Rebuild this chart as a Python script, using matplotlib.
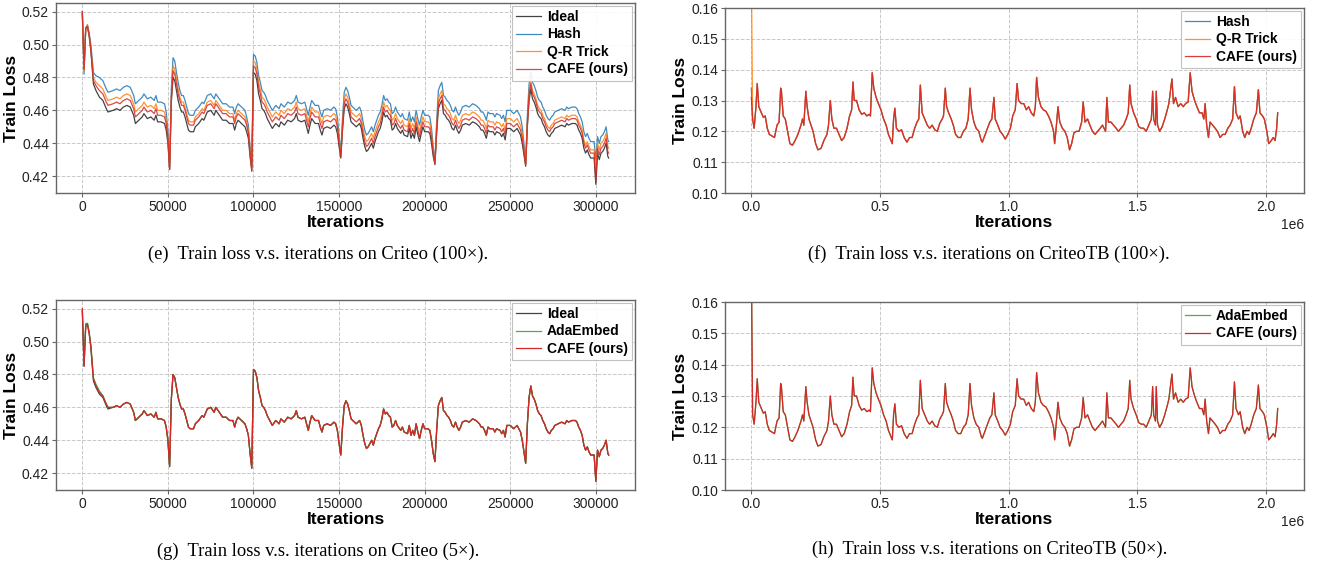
import numpy as np
import matplotlib
matplotlib.use("Agg")
import matplotlib.pyplot as plt

# Criteo: iterations (thousands) and train loss per method
criteo_iter_k = [0, 1, 2, 3, 4, 5, 6.5, 8, 10, 12, 14, 15, 18, 20, 22, 24, 26, 28, 30, 31,
                 33, 35, 36, 38, 40, 42, 43, 44, 46, 48, 49, 50, 51, 52, 53, 54, 55, 56, 57, 58,
                 59, 60, 61, 62, 63, 65, 66, 68, 70, 71, 73, 75, 77, 78, 80, 82, 84, 86, 88, 89,
                 90, 91, 93, 95, 96, 97, 98, 99, 100, 101, 102, 103, 104, 105, 106, 107, 108, 110, 111, 113,
                 115, 116, 118, 120, 122, 124, 125, 126, 128, 130, 131, 132, 133, 134, 136, 138, 139, 140, 141, 143,
                 145, 147, 148, 149, 150, 151, 152, 153, 154, 155, 156, 157, 158, 160, 162, 163, 164, 165, 166, 167,
                 168, 169, 170, 171, 172, 173, 174, 175, 176, 177, 178, 179, 180, 181, 182, 183, 184, 186, 187, 188,
                 190, 191, 192, 193, 194, 195, 196, 197, 198, 199, 200, 202, 203, 204, 205, 206, 207, 208, 209, 210,
                 211, 212, 213, 214, 215, 216, 217, 218, 219, 220, 221, 222, 224, 226, 228, 230, 232, 233, 234, 235,
                 236, 237, 238, 240, 241, 242, 244, 245, 246, 247, 248, 250, 252, 254, 256, 257, 258, 259, 260, 261,
                 262, 263, 264, 265, 266, 267, 268, 269, 270, 271, 272, 273, 274, 275, 276, 278, 280, 282, 283, 284,
                 286, 288, 289, 290, 291, 292, 293, 294, 295, 296, 297, 298, 299, 300, 301, 302, 303, 304, 305, 306,
                 307, 307.5]

ideal_loss = [0.519, 0.485, 0.510, 0.511, 0.505, 0.496, 0.476, 0.472, 0.468, 0.466, 0.461, 0.459, 0.460, 0.461, 0.460, 0.462, 0.463, 0.462, 0.457, 0.452,
              0.454, 0.456, 0.458, 0.455, 0.456, 0.454, 0.457, 0.453, 0.453, 0.452, 0.448, 0.440, 0.424, 0.465, 0.480, 0.478, 0.472, 0.466, 0.462, 0.459,
              0.459, 0.456, 0.452, 0.448, 0.447, 0.447, 0.450, 0.452, 0.455, 0.454, 0.459, 0.460, 0.457, 0.460, 0.457, 0.454, 0.454, 0.452, 0.452, 0.448,
              0.452, 0.454, 0.452, 0.450, 0.447, 0.443, 0.432, 0.423, 0.483, 0.482, 0.478, 0.470, 0.466, 0.461, 0.460, 0.458, 0.455, 0.451, 0.449, 0.452,
              0.450, 0.453, 0.451, 0.454, 0.453, 0.455, 0.458, 0.454, 0.453, 0.454, 0.450, 0.446, 0.451, 0.455, 0.452, 0.452, 0.448, 0.445, 0.449, 0.450,
              0.449, 0.451, 0.450, 0.446, 0.438, 0.431, 0.448, 0.461, 0.464, 0.462, 0.458, 0.453, 0.452, 0.450, 0.452, 0.449, 0.443, 0.438, 0.435, 0.436,
              0.438, 0.440, 0.437, 0.441, 0.444, 0.447, 0.449, 0.453, 0.459, 0.456, 0.457, 0.455, 0.454, 0.448, 0.449, 0.452, 0.449, 0.446, 0.448, 0.445,
              0.444, 0.449, 0.443, 0.446, 0.443, 0.450, 0.445, 0.441, 0.446, 0.450, 0.447, 0.447, 0.446, 0.440, 0.432, 0.427, 0.446, 0.461, 0.464, 0.466,
              0.458, 0.457, 0.455, 0.454, 0.452, 0.449, 0.448, 0.451, 0.448, 0.446, 0.448, 0.451, 0.452, 0.451, 0.453, 0.452, 0.450, 0.448, 0.448, 0.446,
              0.443, 0.448, 0.447, 0.447, 0.445, 0.447, 0.446, 0.444, 0.446, 0.442, 0.449, 0.449, 0.447, 0.449, 0.445, 0.440, 0.433, 0.426, 0.450, 0.466,
              0.473, 0.467, 0.465, 0.462, 0.458, 0.456, 0.455, 0.452, 0.450, 0.447, 0.445, 0.444, 0.446, 0.447, 0.449, 0.450, 0.451, 0.450, 0.452, 0.451,
              0.452, 0.452, 0.451, 0.448, 0.446, 0.443, 0.437, 0.434, 0.436, 0.433, 0.431, 0.431, 0.431, 0.415, 0.434, 0.430, 0.434, 0.435, 0.437, 0.440,
              0.432, 0.431]

hash_loss = [0.520, 0.482, 0.510, 0.512, 0.507, 0.500, 0.483, 0.481, 0.480, 0.478, 0.473, 0.471, 0.472, 0.473, 0.472, 0.474, 0.475, 0.474, 0.469, 0.464,
             0.466, 0.468, 0.470, 0.467, 0.468, 0.466, 0.469, 0.465, 0.465, 0.464, 0.459, 0.448, 0.426, 0.473, 0.492, 0.490, 0.483, 0.477, 0.472, 0.469,
             0.469, 0.466, 0.462, 0.458, 0.457, 0.457, 0.460, 0.462, 0.465, 0.464, 0.469, 0.470, 0.467, 0.470, 0.467, 0.464, 0.464, 0.462, 0.462, 0.458,
             0.462, 0.464, 0.462, 0.460, 0.456, 0.451, 0.438, 0.425, 0.494, 0.493, 0.489, 0.481, 0.477, 0.472, 0.471, 0.469, 0.466, 0.462, 0.460, 0.463,
             0.461, 0.464, 0.462, 0.465, 0.464, 0.466, 0.469, 0.465, 0.464, 0.465, 0.461, 0.457, 0.462, 0.466, 0.463, 0.463, 0.459, 0.456, 0.460, 0.461,
             0.460, 0.462, 0.461, 0.456, 0.445, 0.434, 0.455, 0.471, 0.474, 0.472, 0.468, 0.463, 0.462, 0.460, 0.462, 0.459, 0.453, 0.448, 0.445, 0.446,
             0.448, 0.450, 0.447, 0.451, 0.454, 0.457, 0.459, 0.463, 0.469, 0.466, 0.467, 0.465, 0.464, 0.458, 0.459, 0.462, 0.459, 0.456, 0.458, 0.455,
             0.454, 0.459, 0.453, 0.456, 0.453, 0.460, 0.455, 0.451, 0.456, 0.460, 0.457, 0.457, 0.456, 0.449, 0.438, 0.429, 0.453, 0.472, 0.475, 0.477,
             0.469, 0.468, 0.466, 0.465, 0.463, 0.460, 0.459, 0.462, 0.459, 0.457, 0.459, 0.462, 0.463, 0.462, 0.464, 0.463, 0.461, 0.459, 0.459, 0.457,
             0.454, 0.459, 0.458, 0.458, 0.456, 0.458, 0.457, 0.455, 0.457, 0.453, 0.460, 0.460, 0.458, 0.460, 0.456, 0.450, 0.440, 0.428, 0.457, 0.476,
             0.483, 0.477, 0.475, 0.472, 0.468, 0.466, 0.465, 0.462, 0.460, 0.457, 0.455, 0.454, 0.456, 0.457, 0.459, 0.460, 0.461, 0.460, 0.462, 0.461,
             0.462, 0.462, 0.461, 0.458, 0.456, 0.453, 0.447, 0.444, 0.446, 0.443, 0.441, 0.441, 0.441, 0.430, 0.444, 0.440, 0.444, 0.445, 0.447, 0.450,
             0.442, 0.441]

qr_loss = [0.520, 0.484, 0.510, 0.512, 0.506, 0.498, 0.480, 0.477, 0.475, 0.473, 0.468, 0.466, 0.467, 0.468, 0.467, 0.469, 0.470, 0.469, 0.464, 0.459,
           0.461, 0.463, 0.465, 0.462, 0.463, 0.461, 0.464, 0.460, 0.460, 0.459, 0.454, 0.445, 0.425, 0.469, 0.487, 0.485, 0.479, 0.473, 0.468, 0.465,
           0.465, 0.462, 0.458, 0.454, 0.453, 0.453, 0.456, 0.458, 0.461, 0.460, 0.465, 0.466, 0.463, 0.466, 0.463, 0.460, 0.460, 0.458, 0.458, 0.454,
           0.458, 0.460, 0.458, 0.456, 0.453, 0.448, 0.436, 0.424, 0.490, 0.489, 0.485, 0.477, 0.473, 0.468, 0.467, 0.465, 0.462, 0.458, 0.456, 0.459,
           0.457, 0.460, 0.458, 0.461, 0.460, 0.462, 0.465, 0.461, 0.460, 0.461, 0.457, 0.453, 0.458, 0.462, 0.459, 0.459, 0.455, 0.452, 0.456, 0.457,
           0.456, 0.458, 0.457, 0.452, 0.442, 0.433, 0.452, 0.467, 0.470, 0.468, 0.464, 0.459, 0.458, 0.456, 0.458, 0.455, 0.449, 0.444, 0.441, 0.442,
           0.444, 0.446, 0.443, 0.447, 0.450, 0.453, 0.455, 0.459, 0.465, 0.462, 0.463, 0.461, 0.460, 0.454, 0.455, 0.458, 0.455, 0.452, 0.454, 0.451,
           0.450, 0.455, 0.449, 0.452, 0.449, 0.456, 0.451, 0.447, 0.452, 0.456, 0.453, 0.453, 0.452, 0.446, 0.436, 0.428, 0.450, 0.467, 0.470, 0.472,
           0.464, 0.463, 0.461, 0.460, 0.458, 0.455, 0.454, 0.457, 0.454, 0.452, 0.454, 0.457, 0.458, 0.457, 0.459, 0.458, 0.456, 0.454, 0.454, 0.452,
           0.449, 0.454, 0.453, 0.453, 0.451, 0.453, 0.452, 0.450, 0.452, 0.448, 0.455, 0.455, 0.453, 0.455, 0.451, 0.446, 0.437, 0.427, 0.454, 0.471,
           0.478, 0.472, 0.470, 0.467, 0.463, 0.461, 0.460, 0.457, 0.455, 0.452, 0.450, 0.449, 0.451, 0.452, 0.454, 0.455, 0.456, 0.455, 0.457, 0.456,
           0.457, 0.457, 0.456, 0.453, 0.451, 0.448, 0.442, 0.439, 0.441, 0.438, 0.436, 0.436, 0.436, 0.424, 0.440, 0.436, 0.440, 0.441, 0.443, 0.446,
           0.438, 0.437]

cafe_100x_loss = [0.520, 0.485, 0.510, 0.511, 0.506, 0.497, 0.478, 0.475, 0.472, 0.470, 0.465, 0.463, 0.464, 0.465, 0.464, 0.466, 0.467, 0.466, 0.461, 0.456,
                  0.458, 0.460, 0.462, 0.459, 0.460, 0.458, 0.461, 0.457, 0.457, 0.456, 0.452, 0.443, 0.424, 0.467, 0.484, 0.482, 0.476, 0.470, 0.466, 0.463,
                  0.463, 0.460, 0.456, 0.452, 0.451, 0.451, 0.454, 0.456, 0.459, 0.458, 0.463, 0.464, 0.461, 0.464, 0.461, 0.458, 0.458, 0.456, 0.456, 0.452,
                  0.456, 0.458, 0.456, 0.454, 0.451, 0.446, 0.434, 0.424, 0.487, 0.486, 0.482, 0.474, 0.470, 0.465, 0.464, 0.462, 0.459, 0.455, 0.453, 0.456,
                  0.454, 0.457, 0.455, 0.458, 0.457, 0.459, 0.462, 0.458, 0.457, 0.458, 0.454, 0.450, 0.455, 0.459, 0.456, 0.456, 0.452, 0.449, 0.453, 0.454,
                  0.453, 0.455, 0.454, 0.450, 0.440, 0.432, 0.450, 0.464, 0.467, 0.465, 0.461, 0.456, 0.455, 0.453, 0.455, 0.452, 0.446, 0.441, 0.438, 0.439,
                  0.441, 0.443, 0.440, 0.444, 0.447, 0.450, 0.452, 0.456, 0.462, 0.459, 0.460, 0.458, 0.457, 0.451, 0.452, 0.455, 0.452, 0.449, 0.451, 0.448,
                  0.447, 0.452, 0.446, 0.449, 0.446, 0.453, 0.448, 0.444, 0.449, 0.453, 0.450, 0.450, 0.449, 0.443, 0.434, 0.428, 0.448, 0.464, 0.467, 0.469,
                  0.461, 0.460, 0.458, 0.457, 0.455, 0.452, 0.451, 0.454, 0.451, 0.449, 0.451, 0.454, 0.455, 0.454, 0.456, 0.455, 0.453, 0.451, 0.451, 0.449,
                  0.446, 0.451, 0.450, 0.450, 0.448, 0.450, 0.449, 0.447, 0.449, 0.445, 0.452, 0.452, 0.450, 0.452, 0.448, 0.443, 0.435, 0.427, 0.452, 0.469,
                  0.476, 0.470, 0.468, 0.465, 0.461, 0.459, 0.458, 0.455, 0.453, 0.450, 0.448, 0.447, 0.449, 0.450, 0.452, 0.453, 0.454, 0.453, 0.455, 0.454,
                  0.455, 0.455, 0.454, 0.451, 0.449, 0.446, 0.440, 0.437, 0.439, 0.436, 0.434, 0.434, 0.434, 0.417, 0.437, 0.433, 0.437, 0.438, 0.440, 0.443,
                  0.435, 0.434]

# Criteo 5x: AdaEmbed / CAFE differ from Ideal only in the first steps
ada_5x_head = [0.519, 0.486, 0.511, 0.511, 0.506, 0.498, 0.478, 0.474, 0.470, 0.467, 0.462, 0.460]
cafe_5x_head = [0.520, 0.485, 0.509, 0.510, 0.505, 0.497, 0.477, 0.473, 0.469, 0.467, 0.462, 0.460]
ada_5x_loss = ada_5x_head + ideal_loss[12:]
cafe_5x_loss = cafe_5x_head + ideal_loss[12:]

# CriteoTB: iterations (millions) and train loss
tb_iter_m = [0.000, 0.005, 0.011, 0.018, 0.023, 0.029, 0.039, 0.047, 0.054, 0.062, 0.070, 0.080, 0.090, 0.100, 0.108, 0.114, 0.117, 0.124, 0.132, 0.140,
             0.150, 0.160, 0.170, 0.181, 0.193, 0.199, 0.204, 0.212, 0.217, 0.224, 0.232, 0.240, 0.250, 0.259, 0.271, 0.282, 0.294, 0.300, 0.307, 0.313,
             0.321, 0.331, 0.341, 0.351, 0.361, 0.372, 0.382, 0.390, 0.395, 0.400, 0.409, 0.419, 0.429, 0.439, 0.449, 0.458, 0.463, 0.470, 0.476, 0.485,
             0.494, 0.504, 0.514, 0.524, 0.533, 0.543, 0.548, 0.553, 0.558, 0.564, 0.574, 0.584, 0.594, 0.605, 0.615, 0.625, 0.635, 0.644, 0.651, 0.657,
             0.664, 0.674, 0.684, 0.693, 0.703, 0.713, 0.723, 0.732, 0.742, 0.747, 0.754, 0.759, 0.767, 0.777, 0.785, 0.794, 0.804, 0.814, 0.824, 0.834,
             0.843, 0.850, 0.856, 0.865, 0.874, 0.884, 0.894, 0.898, 0.909, 0.918, 0.927, 0.935, 0.943, 0.948, 0.958, 0.967, 0.977, 0.987, 0.997, 1.007,
             1.016, 1.026, 1.033, 1.039, 1.049, 1.059, 1.069, 1.078, 1.088, 1.098, 1.104, 1.109, 1.116, 1.126, 1.135, 1.145, 1.155, 1.165, 1.175, 1.179,
             1.186, 1.192, 1.199, 1.209, 1.219, 1.228, 1.237, 1.245, 1.254, 1.264, 1.274, 1.284, 1.290, 1.297, 1.307, 1.316, 1.326, 1.336, 1.346, 1.356,
             1.365, 1.377, 1.382, 1.388, 1.398, 1.408, 1.418, 1.427, 1.437, 1.447, 1.457, 1.465, 1.471, 1.476, 1.486, 1.496, 1.506, 1.516, 1.525, 1.535,
             1.545, 1.555, 1.560, 1.564, 1.571, 1.574, 1.579, 1.587, 1.597, 1.607, 1.617, 1.623, 1.635, 1.641, 1.649, 1.659, 1.669, 1.679, 1.688, 1.698,
             1.706, 1.713, 1.723, 1.732, 1.742, 1.752, 1.759, 1.764, 1.770, 1.777, 1.783, 1.793, 1.803, 1.812, 1.822, 1.832, 1.842, 1.852, 1.861, 1.871,
             1.878, 1.884, 1.894, 1.900, 1.910, 1.918, 1.927, 1.935, 1.943, 1.953, 1.963, 1.971, 1.977, 1.987, 1.994, 2.004, 2.011, 2.021, 2.029, 2.036,
             2.042, 2.046]

tb_loss = [0.131, 0.124, 0.121, 0.128, 0.1355, 0.128, 0.126, 0.1245, 0.125, 0.121, 0.119, 0.1185, 0.118, 0.122, 0.123, 0.134, 0.133, 0.125, 0.124, 0.1205,
           0.116, 0.1155, 0.117, 0.119, 0.122, 0.124, 0.122, 0.133, 0.128, 0.124, 0.122, 0.120, 0.116, 0.114, 0.1145, 0.117, 0.119, 0.122, 0.130, 0.124,
           0.121, 0.121, 0.119, 0.117, 0.118, 0.121, 0.125, 0.127, 0.136, 0.130, 0.130, 0.127, 0.1255, 0.126, 0.125, 0.1255, 0.125, 0.139, 0.134, 0.131,
           0.129, 0.127, 0.124, 0.122, 0.119, 0.117, 0.116, 0.124, 0.1275, 0.121, 0.120, 0.1205, 0.118, 0.1165, 0.118, 0.118, 0.121, 0.123, 0.124, 0.135,
           0.126, 0.124, 0.122, 0.121, 0.122, 0.1205, 0.120, 0.1225, 0.124, 0.125, 0.134, 0.128, 0.126, 0.124, 0.122, 0.119, 0.118, 0.118, 0.120, 0.121,
           0.124, 0.134, 0.127, 0.123, 0.121, 0.120, 0.117, 0.1165, 0.119, 0.121, 0.123, 0.124, 0.131, 0.124, 0.122, 0.120, 0.119, 0.1175, 0.119, 0.121,
           0.125, 0.127, 0.1355, 0.130, 0.129, 0.129, 0.127, 0.128, 0.126, 0.125, 0.128, 0.1375, 0.131, 0.128, 0.127, 0.1265, 0.125, 0.123, 0.120, 0.116,
           0.122, 0.128, 0.123, 0.121, 0.120, 0.118, 0.114, 0.116, 0.1195, 0.120, 0.120, 0.123, 0.1295, 0.123, 0.124, 0.122, 0.120, 0.119, 0.120, 0.121,
           0.122, 0.120, 0.131, 0.123, 0.123, 0.122, 0.121, 0.120, 0.121, 0.122, 0.124, 0.126, 0.135, 0.129, 0.126, 0.124, 0.1215, 0.121, 0.121, 0.120,
           0.122, 0.124, 0.133, 0.124, 0.122, 0.133, 0.122, 0.120, 0.1215, 0.124, 0.127, 0.129, 0.137, 0.129, 0.131, 0.128, 0.129, 0.128, 0.129, 0.1295,
           0.139, 0.133, 0.130, 0.128, 0.126, 0.126, 0.124, 0.129, 0.122, 0.118, 0.123, 0.122, 0.121, 0.120, 0.118, 0.119, 0.119, 0.121, 0.122, 0.124,
           0.1345, 0.126, 0.124, 0.125, 0.120, 0.118, 0.120, 0.119, 0.121, 0.124, 0.126, 0.1335, 0.126, 0.125, 0.124, 0.120, 0.116, 0.117, 0.118, 0.117,
           0.121, 0.126]

# first logged loss differs per method (the rest overlaps)
tb_hash_100x = [0.134] + tb_loss[1:]
tb_qr_100x = [0.175] + tb_loss[1:]
tb_cafe_100x = tb_loss
tb_ada_50x = [0.175] + tb_loss[1:]
tb_cafe_50x = [0.175] + tb_loss[1:]

captions = ["(e)  Train loss v.s. iterations on Criteo (100\u00d7).",
            "(f)  Train loss v.s. iterations on CriteoTB (100\u00d7).",
            "(g)  Train loss v.s. iterations on Criteo (5\u00d7).",
            "(h)  Train loss v.s. iterations on CriteoTB (50\u00d7)."]

plt.rcParams["font.family"] = ["Liberation Sans", "DejaVu Sans"]

BLACK = "#222222"
BLUE = "#1f77b4"
ORANGE = "#ff7f0e"
GREEN = "#2ca02c"
RED = "#d62728"

fig = plt.figure(figsize=(13.17, 5.62), dpi=100)
W, H = 1317.0, 562.0


def make_axes(left, top, right, bottom):
    return fig.add_axes([left / W, 1 - bottom / H, (right - left) / W, (bottom - top) / H])


def style(ax):
    ax.grid(True, linestyle="--", color="#c8c8c8", linewidth=0.7)
    ax.set_axisbelow(True)
    for s in ax.spines.values():
        s.set_color("#666666")
        s.set_linewidth(1.0)
    ax.tick_params(labelsize=10, length=3, pad=2, color="#666666", labelcolor="#222222")
    ax.set_xlabel("Iterations", fontsize=12.5, fontweight="bold", labelpad=1)
    ax.set_ylabel("Train Loss", fontsize=12.5, fontweight="bold", labelpad=2)
    ax.xaxis.get_offset_text().set_fontsize(10)


def add_legend(ax):
    leg = ax.legend(loc="upper right", prop={"weight": "bold", "size": 10},
                    labelspacing=0.25, handlelength=1.8, handletextpad=0.45,
                    borderpad=0.3, borderaxespad=0.2, fancybox=False,
                    edgecolor="#bbbbbb", framealpha=0.9)
    leg.get_frame().set_linewidth(0.8)


x_criteo = np.array(criteo_iter_k) * 1000
x_tb = np.array(tb_iter_m) * 1e6
lw = 0.9
alpha = 0.85

# (e) Criteo 100x
ax = make_axes(56, 3, 635, 193)
ax.plot(x_criteo, ideal_loss, color=BLACK, lw=lw, alpha=alpha, label="Ideal")
ax.plot(x_criteo, hash_loss, color=BLUE, lw=lw, alpha=alpha, label="Hash")
ax.plot(x_criteo, qr_loss, color=ORANGE, lw=lw, alpha=alpha, label="Q-R Trick")
ax.plot(x_criteo, cafe_100x_loss, color=RED, lw=lw, alpha=alpha, label="CAFE (ours)")
ax.set_xlim(-15375, 322875)
ax.set_ylim(0.40975, 0.52525)
ax.set_yticks([0.42, 0.44, 0.46, 0.48, 0.50, 0.52])
style(ax)
add_legend(ax)

# (f) CriteoTB 100x
ax = make_axes(725, 8, 1304, 193)
ax.plot(x_tb, tb_hash_100x, color=BLUE, lw=lw, alpha=alpha, label="Hash")
ax.plot(x_tb, tb_qr_100x, color=ORANGE, lw=lw, alpha=alpha, label="Q-R Trick")
ax.plot(x_tb, tb_cafe_100x, color=RED, lw=lw, alpha=0.9, label="CAFE (ours)")
ax.set_xlim(-0.1023e6, 2.1483e6)
ax.set_ylim(0.10, 0.16)
ax.set_yticks([0.10, 0.11, 0.12, 0.13, 0.14, 0.15, 0.16])
style(ax)
add_legend(ax)

# (g) Criteo 5x
ax = make_axes(56, 300, 635, 490)
ax.plot(x_criteo, ideal_loss, color=BLACK, lw=lw, alpha=alpha, label="Ideal")
ax.plot(x_criteo, ada_5x_loss, color=GREEN, lw=lw, alpha=alpha, label="AdaEmbed")
ax.plot(x_criteo, cafe_5x_loss, color=RED, lw=lw, alpha=1.0, label="CAFE (ours)")
ax.set_xlim(-15375, 322875)
ax.set_ylim(0.40975, 0.52525)
ax.set_yticks([0.42, 0.44, 0.46, 0.48, 0.50, 0.52])
style(ax)
add_legend(ax)

# (h) CriteoTB 50x
ax = make_axes(725, 302, 1304, 490)
ax.plot(x_tb, tb_ada_50x, color=GREEN, lw=lw, alpha=alpha, label="AdaEmbed")
ax.plot(x_tb, tb_cafe_50x, color=RED, lw=lw, alpha=1.0, label="CAFE (ours)")
ax.set_xlim(-0.1023e6, 2.1483e6)
ax.set_ylim(0.10, 0.16)
ax.set_yticks([0.10, 0.11, 0.12, 0.13, 0.14, 0.15, 0.16])
style(ax)
add_legend(ax)

# Captions under each panel
cap_pos = [(318, 254), (989, 254), (318, 551), (990, 549)]
for text, (cx, cy) in zip(captions, cap_pos):
    fig.text(cx / W, 1 - cy / H, text, ha="center", va="center",
             fontsize=13.3, family=["Liberation Serif", "DejaVu Serif"])

fig.savefig("out.png", dpi=100)
